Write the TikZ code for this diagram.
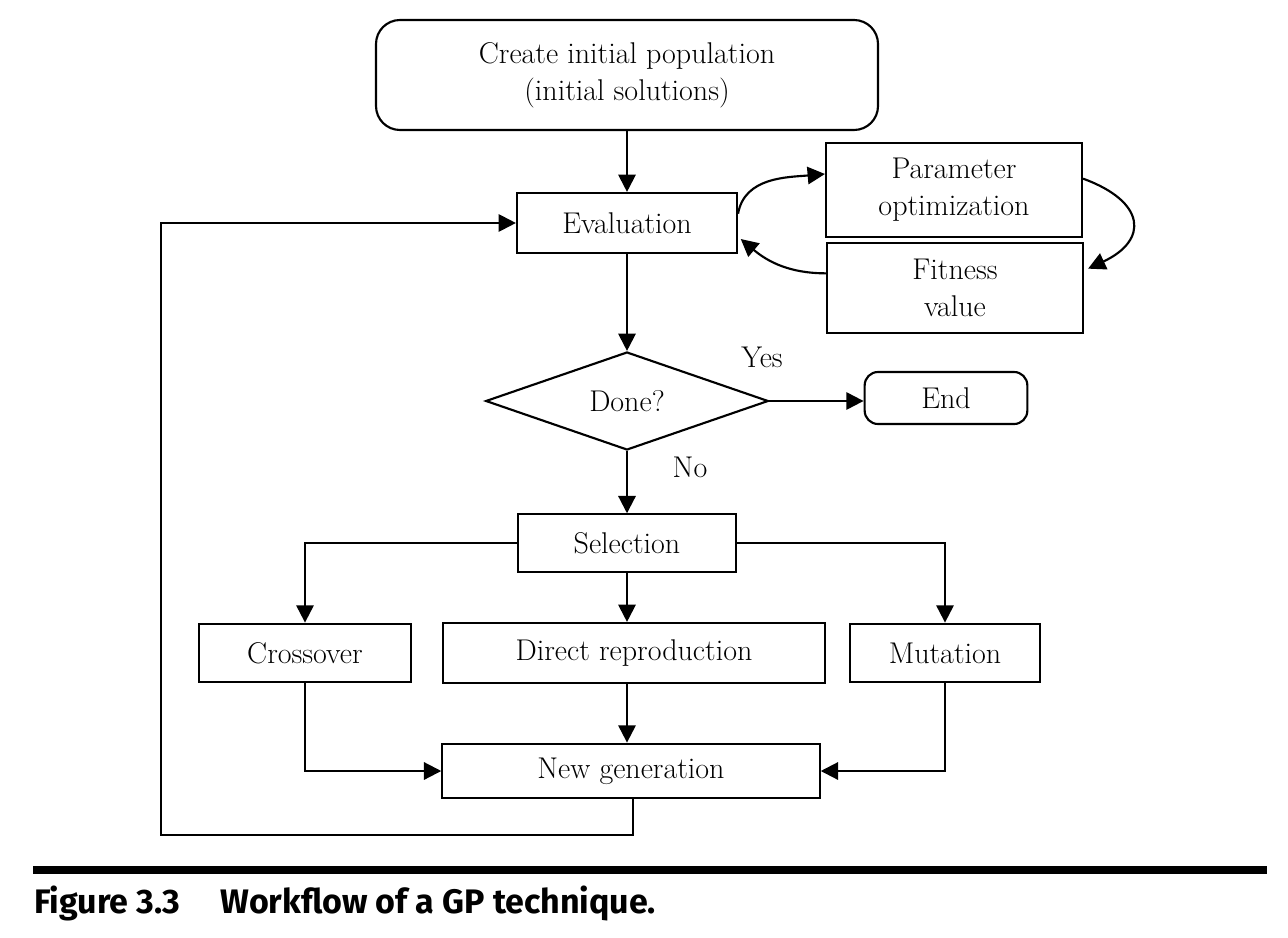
\documentclass[tikz,border=0pt]{standalone}
\usepackage{fontspec}
\newfontfamily\capfont{Fira Sans}
\usetikzlibrary{arrows.meta,shapes.geometric,calc}
\begin{document}
\begin{tikzpicture}[x=0.75pt,y=-0.75pt,
  line width=1.6pt,
  arr/.style={-{Triangle[length=13pt,width=13pt]}},
  bx/.style={draw,line width=1.6pt,inner sep=0pt,align=center,font=\fontsize{22.5}{27.75}\selectfont},
  rbx/.style={bx,rounded corners=18pt},
  lbl/.style={font=\fontsize{22.5}{27}\selectfont},
]
\useasboundingbox (0,0) rectangle (1288,938);
\node[rbx,minimum width=376.5pt,minimum height=82.5pt] (init) at (627,75) {Create initial population\\(initial solutions)};
\node[bx,minimum width=165pt,minimum height=45pt] (eval) at (627,223) {Evaluation};
\node[bx,minimum width=192pt,minimum height=71pt] (param) at (954,190) {Parameter\\optimization};
\node[bx,minimum width=192pt,minimum height=67pt] (fit) at (955,288) {Fitness\\value};
\node[bx,diamond,aspect=2.89,minimum width=212pt,minimum height=73.5pt] (done) at (627,401) {Done?};
\node[rbx,rounded corners=10pt,minimum width=122pt,minimum height=39pt] (end) at (946,398) {End};
\node[bx,minimum width=164pt,minimum height=43pt] (sel) at (627,543) {Selection};
\node[bx,minimum width=159pt,minimum height=44pt] (cross) at (305,653) {Crossover};
\node[bx,minimum width=287pt,minimum height=45pt] (direct) at (634,653) {Direct reproduction};
\node[bx,minimum width=142pt,minimum height=44pt] (mut) at (945,653) {Mutation};
\node[bx,minimum width=283pt,minimum height=41pt] (newgen) at (631,771) {New generation};
\node[lbl] (yes) at (762,357) {Yes};
\node[lbl] (no) at (690,467) {No};

\draw[arr] (init.south) -- (eval.north);
\draw[arr] (eval.south) -- (done.north);
\draw[arr] (done.east) -- (done.east -| end.west);
\draw[arr] (done.south) -- (sel.north);
\draw[arr] (sel.south) -- (sel.south |- direct.north);
\draw[arr] (sel.west) -| (cross.north);
\draw[arr] (sel.east) -| (mut.north);
\draw[arr] (sel.south |- direct.south) -- (sel.south |- newgen.north);
\draw[arr] (cross.south) |- (newgen.west);
\draw[arr] (mut.south) |- (newgen.east);
\coordinate (lb) at (633,835);
\coordinate (ll) at (161,835);
\draw[arr] (newgen.south -| lb) -- (lb) -- (ll) |- (eval.west);

\draw[arr] ([yshift=7pt]eval.east) to[out=80,in=185] ([yshift=12pt]param.west);
\draw[arr] ([yshift=8.5pt]param.east) to[out=-20,in=25,looseness=1.9] ([yshift=14.5pt,xshift=3pt]fit.east);
\draw[arr] ([yshift=11pt]fit.west) to[out=180,in=-40] ([yshift=-12pt,xshift=2pt]eval.east);

\coordinate (r1) at (33,870);
\coordinate (r2) at (1267,870);
\draw[line width=6.5pt] (r1) -- (r2);
\node[anchor=base west,inner sep=0pt,font=\capfont\bfseries\fontsize{25.5}{30}\selectfont] (cap) at (33,913) {Figure 3.3\hspace{30pt}Workflow of a GP technique.};
\end{tikzpicture}
\end{document}
